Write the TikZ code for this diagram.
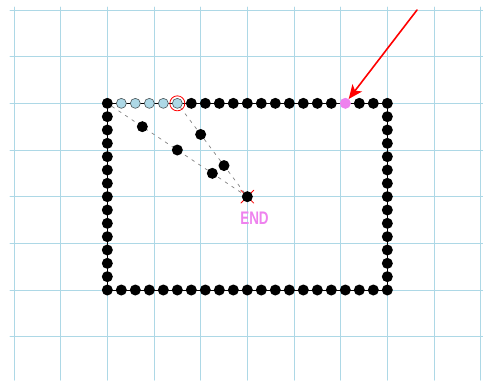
\documentclass[tikz,border=0pt]{standalone}
\usepackage{fontspec}
\setsansfont{Liberation Sans}
\usepackage{graphicx}
\usetikzlibrary{arrows.meta,calc}
\definecolor{gridblue}{HTML}{ADD8E6}
\definecolor{visitfill}{HTML}{ADD8E6}
\definecolor{visitink}{HTML}{4A5558}
\definecolor{markred}{HTML}{FF0000}
\definecolor{goalpink}{HTML}{EE82EE}
\definecolor{trailgray}{HTML}{808080}

\begin{document}
\begin{tikzpicture}[
  x=1bp,
  y=-1bp,
  line cap=round,
  gridline/.style={
    draw=gridblue,
    line width=1bp
  },
  dot/.style={
    circle,
    fill=black,
    minimum size=11bp,
    inner sep=0pt,
    outer sep=0pt
  },
  visited/.style={
    dot,
    fill=visitfill,
    draw=visitink,
    line width=0.6bp,
    minimum size=10bp
  },
  goal/.style={
    dot,
    fill=goalpink
  },
  trail/.style={
    draw=trailgray,
    line width=0.7bp,
    dash pattern=on 3bp off 5bp
  },
  arr/.style={
    -{Stealth[length=14bp,width=12bp,inset=3.5bp]},
    line width=1.6bp,
    draw=markred
  }
]
\useasboundingbox (0,0) rectangle (483,380);

% ------------------------------------------------------------
% Background grid
% ------------------------------------------------------------

\foreach \k in {0,...,10}{
  \draw[gridline] ({14+46.667*\k},7) -- ({14+46.667*\k},380);
}
\foreach \k in {0,...,7}{
  \draw[gridline] (10,{10+46.667*\k}) -- (483,{10+46.667*\k});
}

% ------------------------------------------------------------
% Border of dots
% ------------------------------------------------------------

\coordinate (nw) at (107.33,103.33);
\coordinate (ne) at (387.33,103.33);
\coordinate (sw) at (107.33,290);
\coordinate (se) at (387.33,290);
\coordinate (endpt) at (247.33,196.67);

\draw[line width=0.8bp] (nw) -- (ne) -- (se) -- (sw) -- cycle;

\foreach \i in {0,6,7,8,9,10,11,12,13,14,15,16,18,19,20}{
  \node[dot] (t\i) at ($(nw)!\i/20!(ne)$) {};
}
\foreach \i in {1,...,5}{
  \node[visited] (t\i) at ($(nw)!\i/20!(ne)$) {};
}
\node[goal] (t17) at ($(nw)!17/20!(ne)$) {};

\foreach \i in {0,...,20}{
  \node[dot] (b\i) at ($(sw)!\i/20!(se)$) {};
}
\foreach \j in {1,...,13}{
  \node[dot] (l\j) at ($(nw)!\j/14!(sw)$) {};
  \node[dot] (r\j) at ($(ne)!\j/14!(se)$) {};
}

% ------------------------------------------------------------
% Two paths towards the end point
% ------------------------------------------------------------

\draw[draw=markred,line width=0.8bp]
  ($(endpt)+(-6.5,-6.5)$) -- ($(endpt)+(6.5,6.5)$);
\draw[draw=markred,line width=0.8bp]
  ($(endpt)+(-6.5,6.5)$) -- ($(endpt)+(6.5,-6.5)$);
\node[dot] (finish) at (endpt) {};

\draw[trail] (t0) -- (finish);
\draw[trail] (t5) -- (finish);

\foreach \n in {1,2,3}{
  \node[dot] (a\n) at ($(t0)!\n/4!(finish)$) {};
}
\foreach \n in {1,2}{
  \node[dot] (c\n) at ($(t5)!\n/3!(finish)$) {};
}

\node[
  circle,
  draw=markred,
  line width=0.8bp,
  minimum size=15bp,
  inner sep=0pt
] (pick) at (t5) {};

% ------------------------------------------------------------
% Labels
% ------------------------------------------------------------

\coordinate (pointer) at (417,10);
\draw[arr] (pointer) -- (t17);

\node[
  font=\fontsize{13.5}{14}\selectfont\sffamily\bfseries,
  text=goalpink,
  inner sep=0pt
] (endlabel) at (254.5,218.5)
  {\scalebox{1}[1.35]{END}};
\end{tikzpicture}
\end{document}
